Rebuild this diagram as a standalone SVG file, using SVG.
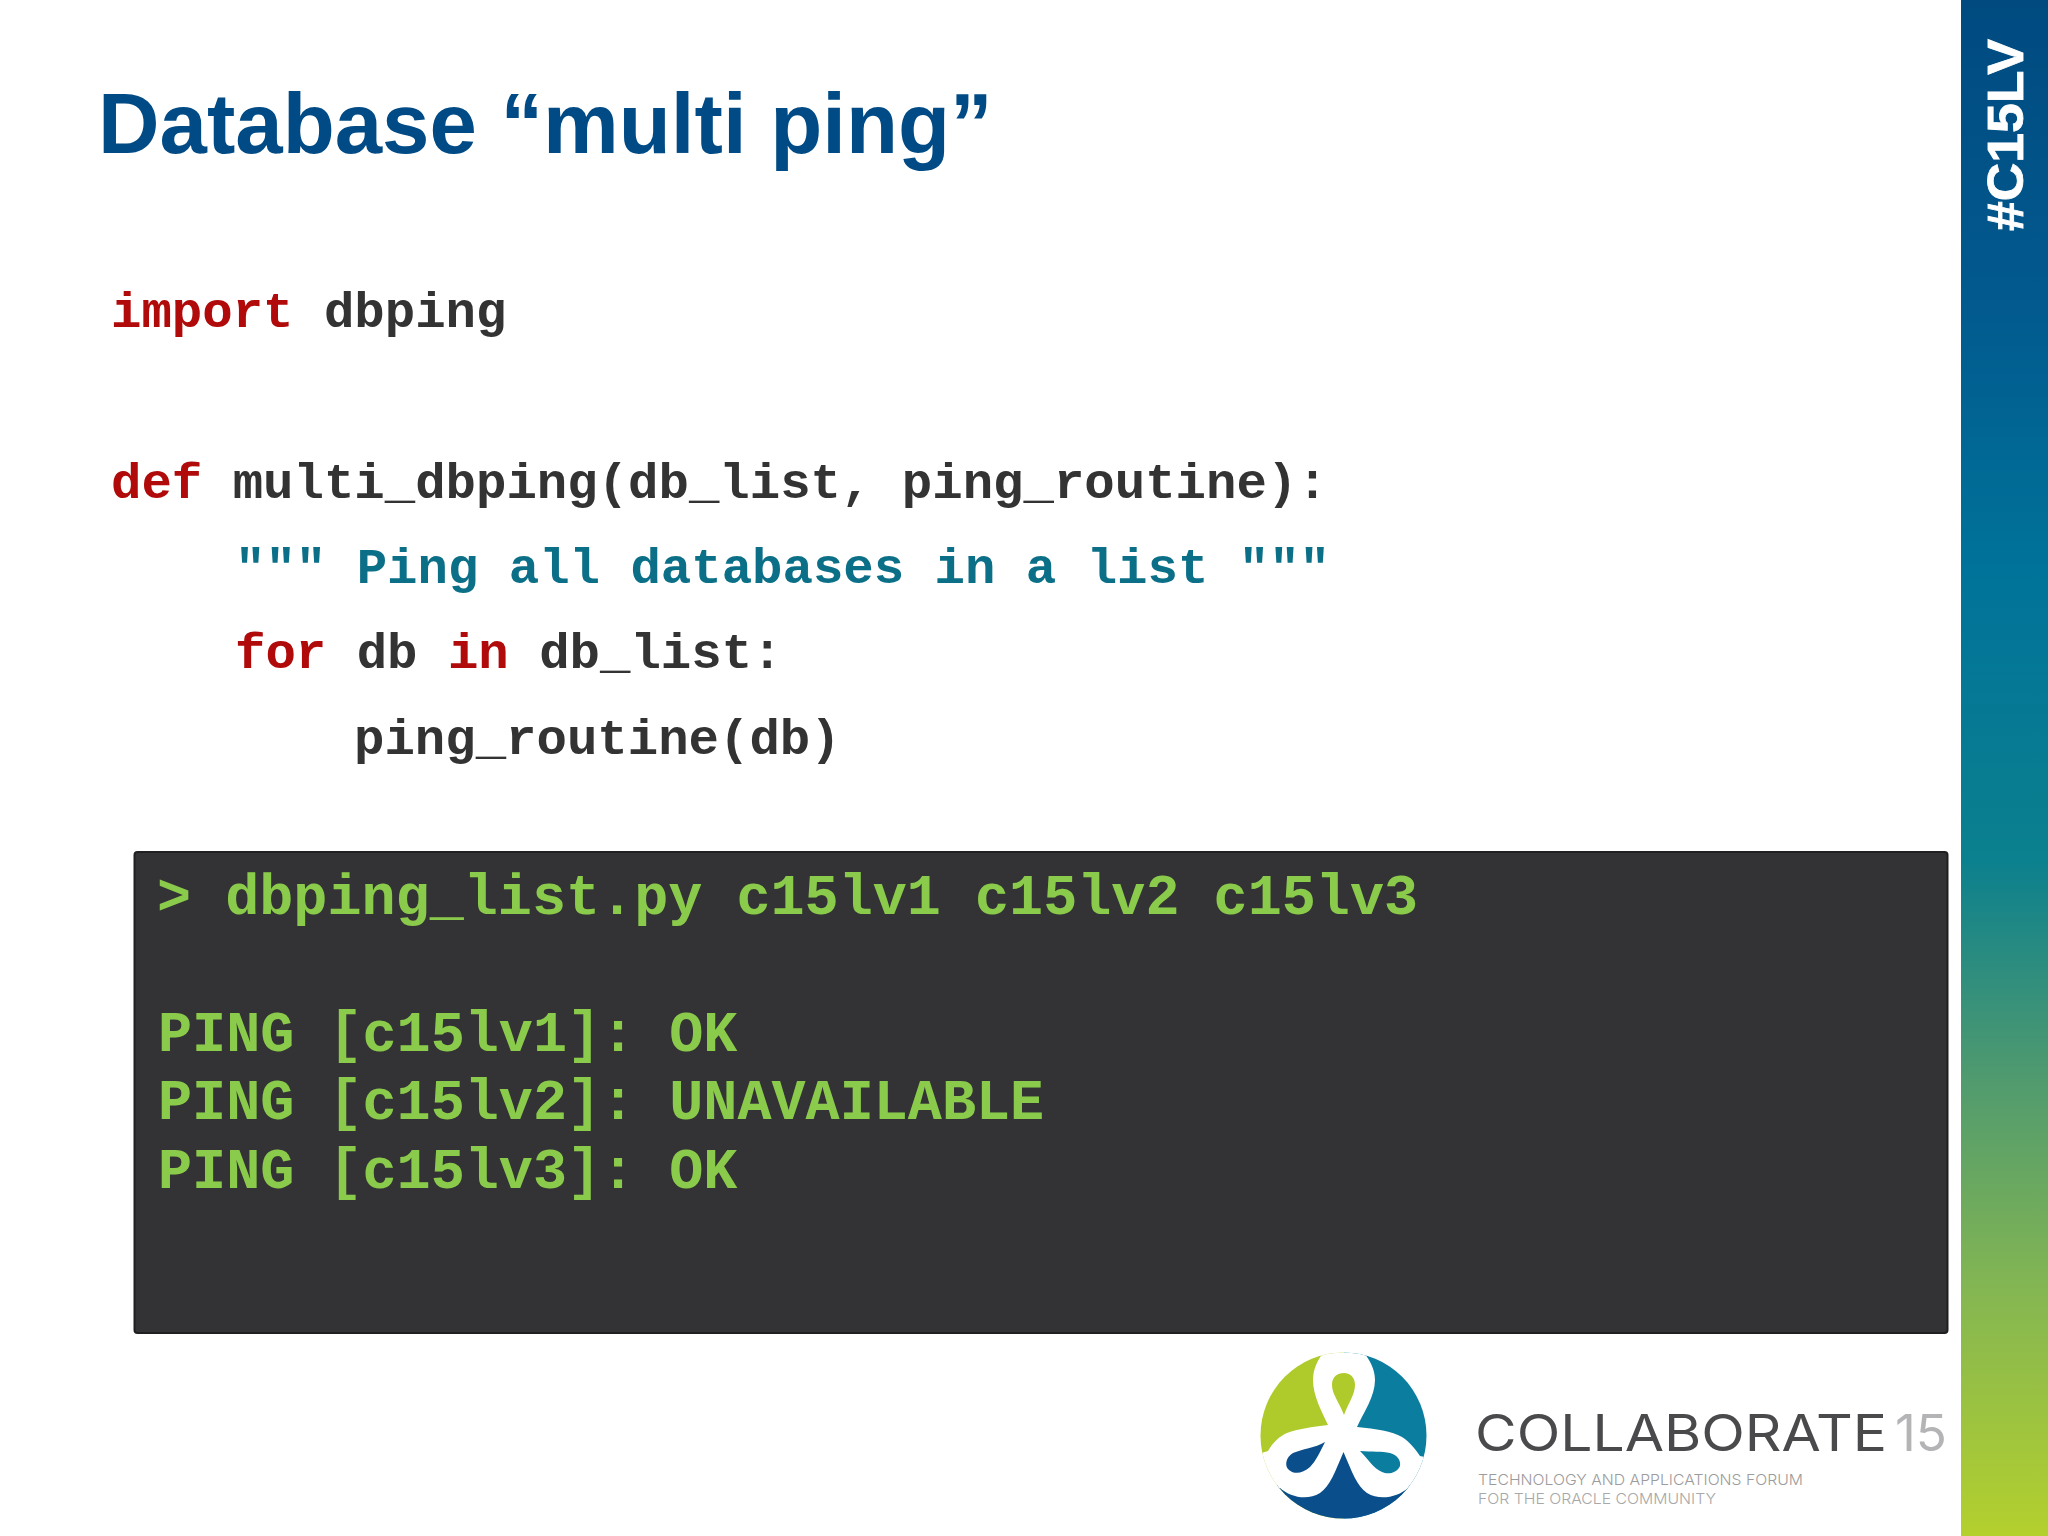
<svg xmlns="http://www.w3.org/2000/svg" width="2048" height="1536" viewBox="0 0 2048 1536">
<defs>
<linearGradient id="side" x1="0" y1="0" x2="0" y2="1">
<stop offset="0" stop-color="#004a80"/><stop offset="0.2" stop-color="#025a8e"/><stop offset="0.37" stop-color="#00739a"/><stop offset="0.56" stop-color="#0b808e"/><stop offset="0.7" stop-color="#4f9a6f"/><stop offset="0.84" stop-color="#84b652"/><stop offset="1" stop-color="#b4d02e"/>
</linearGradient>
<clipPath id="disc"><circle cx="1343.5" cy="1435.5" r="83"/></clipPath>
</defs>
<style>
.code{font-family:"Liberation Mono","Courier New",monospace;font-weight:700;font-size:50.7px;fill:#333;white-space:pre}
.term{font-family:"Liberation Mono","Courier New",monospace;font-weight:700;font-size:56.8px;fill:#8bcb4b;white-space:pre}
.kw{fill:#b00a0a}.doc{fill:#0c6f88}
.sans{font-family:"Liberation Sans",Arial,sans-serif}
.logo{font-family:Inter,"Liberation Sans",sans-serif}
</style>
<rect width="2048" height="1536" fill="#ffffff"/>
<rect id="sidebar" x="1961" y="0" width="87" height="1536" fill="url(#side)"/>
<text class="sans" transform="translate(2023 231) rotate(-90)" font-size="50" font-weight="700" fill="#fff" stroke="#fff" stroke-width="0.8" textLength="192" lengthAdjust="spacingAndGlyphs">#C15LV</text>
<text id="title" class="sans" x="98" y="153" font-size="85.2" font-weight="700" fill="#004b85">Database “multi ping”</text>
<g id="code">
<text class="code" x="111" y="327"><tspan class="kw">import</tspan> dbping</text>
<text class="code" x="111" y="498"><tspan class="kw">def</tspan> multi_dbping(db_list, ping_routine):</text>
<text class="code doc" x="235" y="583">""" Ping all databases in a list """</text>
<text class="code" x="235" y="668"><tspan class="kw">for</tspan> db <tspan class="kw">in</tspan> db_list:</text>
<text class="code" x="354" y="754">ping_routine(db)</text>
</g>
<g id="terminal">
<rect x="134.5" y="852" width="1813" height="481" rx="3" fill="#333335" stroke="#202022" stroke-width="2"/>
<text class="term" x="157" y="914">&gt; dbping_list.py c15lv1 c15lv2 c15lv3</text>
<text class="term" x="158" y="1051">PING [c15lv1]: OK</text>
<text class="term" x="158" y="1119">PING [c15lv2]: UNAVAILABLE</text>
<text class="term" x="158" y="1188">PING [c15lv3]: OK</text>
</g>
<g id="logo">
<g clip-path="url(#disc)">
<rect x="1255" y="1350" width="89" height="175" fill="#aecb2b"/>
<rect x="1344" y="1350" width="89" height="175" fill="#0b7ea0"/>
<rect x="1255" y="1485" width="180" height="40" fill="#0a4f8c"/>
<path fill="#0a4f8c" d="M1343.5 1440L1295 1500L1392 1500Z"/>
<path fill="#fff" d="M1330 1345L1357 1345C1366 1354 1375 1366 1375 1380C1375 1396 1364 1412 1357 1427C1376 1429 1392 1431 1402 1437C1410 1442 1416 1450 1420 1456L1440 1460L1440 1490L1408 1488C1398 1497 1380 1501 1367 1493C1357 1486 1352 1472 1343.5 1452C1335 1472 1330 1486 1320 1493C1307 1501 1290 1497 1280 1488L1245 1490L1245 1458L1268 1451C1272 1444 1278 1437 1287 1433C1298 1429 1312 1427 1328 1425C1322 1412 1313 1396 1313 1380C1313 1366 1321 1354 1330 1345Z"/>
</g>
<path fill="#aecb2b" d="M1344 1415C1339 1402 1332 1394 1332 1385C1332 1377 1337 1373 1344 1373C1351 1373 1355 1378 1355 1385C1355 1394 1349 1402 1344 1415Z"/>
<path fill="#0a4f8c" d="M1325 1442C1315 1448 1302 1449 1293 1453C1286 1457 1284 1466 1289 1470C1295 1475 1303 1473 1310 1467C1316 1461 1320 1452 1325 1442Z"/>
<path fill="#0b7ea0" d="M1360 1451C1372 1452 1382 1451 1390 1453C1398 1455 1401 1461 1400 1466C1397 1473 1388 1475 1382 1472C1373 1468 1368 1459 1360 1451Z"/>
<text class="logo" x="1475" y="1451" font-size="50" fill="#4a4a4c" textLength="412" lengthAdjust="spacingAndGlyphs">COLLABORATE</text>
<text class="logo" x="1895" y="1451" font-size="50" fill="#b4b4b6" textLength="52" lengthAdjust="spacingAndGlyphs">15</text>
<text class="logo" x="1478" y="1485" font-size="15" font-weight="300" fill="#9c9c9c" textLength="325" lengthAdjust="spacingAndGlyphs">TECHNOLOGY AND APPLICATIONS FORUM</text>
<text class="logo" x="1478" y="1504" font-size="15" font-weight="300" fill="#a8a8a8" textLength="238" lengthAdjust="spacingAndGlyphs">FOR THE ORACLE COMMUNITY</text>
</g>
</svg>
